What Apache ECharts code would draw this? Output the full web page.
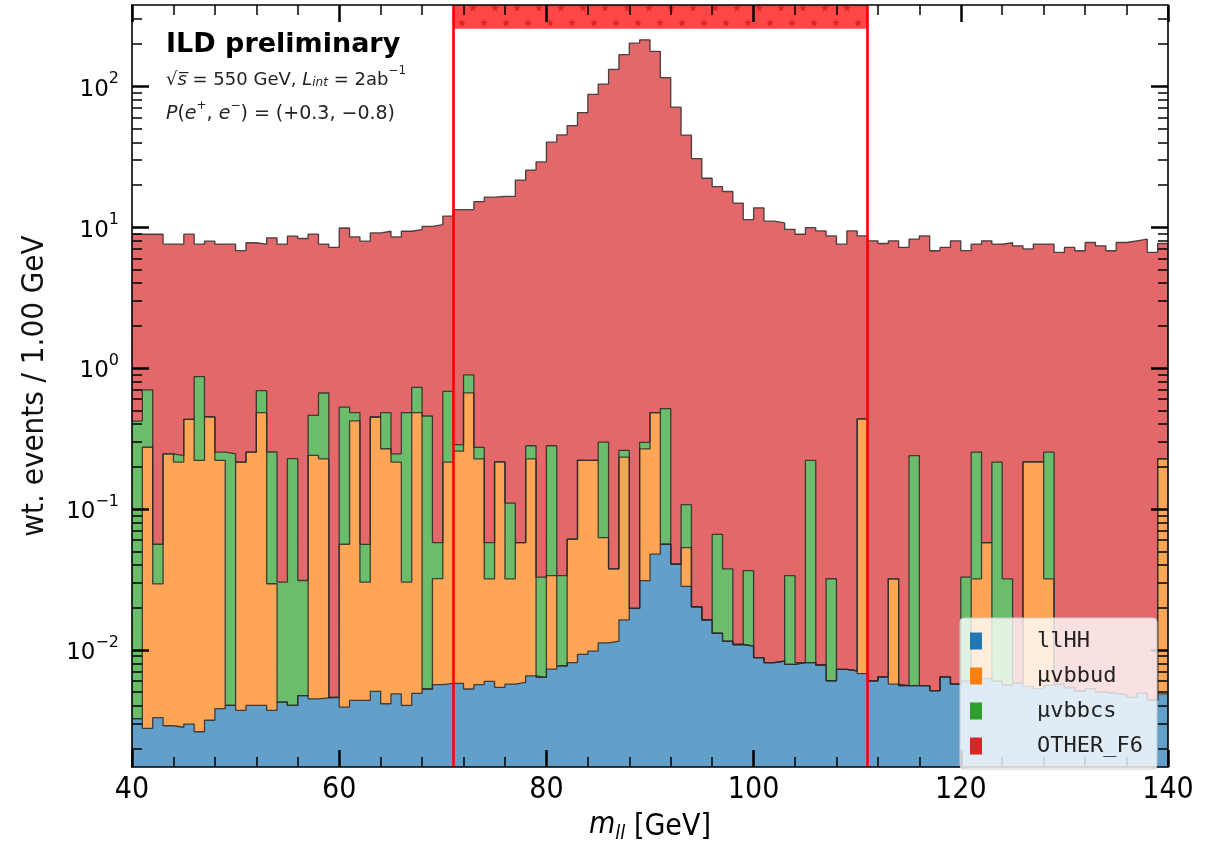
<!DOCTYPE html>
<html>
<head>
<meta charset="utf-8">
<script src="https://cdn.jsdelivr.net/npm/echarts@6/dist/echarts.min.js"></script>
<style>html,body{margin:0;padding:0;background:#fff;}#chart{width:1219px;height:849px;}</style>
</head>
<body>
<div id="chart"></div>
<script>
// ---------- data ----------
const binLow = 40, binHigh = 140, nBins = 100;
const binEdges = [];
for (let i = 0; i <= nBins; i++) binEdges.push(binLow + i * (binHigh - binLow) / nBins);

const seriesNames = ['llHH', 'μvbbud', 'μvbbcs', 'OTHER_F6'];

const llHH = [
0.00325,0.00277,0.0033,0.00289,0.00282,0.00297,0.00262,0.00316,0.00382,0.00403,
0.00372,0.00403,0.00403,0.00372,0.00425,0.00403,0.00473,0.00449,0.00455,0.0046,
0.00392,0.00437,0.00437,0.00507,0.00414,0.00486,0.00403,0.00491,0.00527,0.00565,
0.00577,0.00577,0.00527,0.00565,0.00596,0.00541,0.00571,0.00586,0.00653,0.00636,
0.00728,0.00768,0.00811,0.00927,0.00978,0.0112,0.0115,0.0163,0.0197,0.031,
0.0477,0.0561,0.0406,0.0282,0.0202,0.0163,0.0131,0.0115,0.0109,0.0106,
0.00879,0.00811,0.0083,0.00789,0.00811,0.00811,0.0078,0.00603,0.00727,0.00708,
0.00678,0.00602,0.00643,0.0057,0.00556,0.00556,0.00556,0.00513,0.00643,0.0057,
0.0060,0.0062,0.0063,0.0060,0.0056,0.0058,0.0055,0.0053,0.0056,0.0057,
0.0054,0.0051,0.0053,0.0050,0.0049,0.0048,0.0046,0.0049,0.0044,0.00486];

const vbbud = [
0,0.271,0.0261,0.243,0.212,0.429,0.218,0.446,0.217,0,
0.211,0.249,0.478,0.0257,0,0,0,0.235,0.222,0,
0.0522,0.417,0.0258,0.444,0.263,0.21,0.0262,0.477,0,0.0263,
0.209,0.251,0.66,0.221,0.0259,0.21,0.0262,0.0517,0.22,0,
0.0263,0,0.0528,0.212,0.211,0.0513,0.026,0.217,0,0.236,
0.434,0,0,0.0249,0,0,0,0,0,0,
0,0,0,0,0,0,0,0,0,0,
0.429,0,0,0.0262,0,0,0,0,0,0,
0,0.0257,0.0513,0,0,0,0.21,0.21,0.0263,0,
0,0,0,0,0,0,0,0,0,0.222];

const vbbcs = [
0.417,0.426,0.0267,0,0.024,0,0.649,0,0.032,0.242,
0,0,0.208,0.224,0.026,0.223,0.0263,0.222,0.438,0,
0.471,0.061,0.0259,0,0.215,0.031,0.452,0.246,0.451,0.0257,
0.468,0.029,0.228,0.047,0.0257,0,0.078,0,0.054,0.0264,
0.247,0.0259,0,0,0,0.235,0,0.027,0,0.03,
0,0.458,0,0.054,0,0,0.0528,0.026,0,0.0259,
0,0,0,0.0257,0,0.213,0,0.0259,0,0,
0,0,0,0,0,0.233,0,0,0,0,
0.0268,0.221,0,0.209,0.0263,0,0,0,0.221,0,
0,0,0,0,0,0,0,0,0,0];

const otherF6 = [
8.48,8.20,8.84,7.32,7.33,8.47,6.70,7.50,7.32,7.32,
6.59,7.49,6.88,8.14,7.54,8.39,8.27,8.44,6.91,7.18,
9.33,8.04,7.89,8.64,8.86,8.27,8.86,8.86,9.66,10.34,
11.28,13.0,12.4,14.9,16.24,16.3,16.4,21.5,25.1,29.0,
39.8,45.1,52.4,64.8,87.2,103.0,131.5,167.2,202.1,213.0,
176.2,114.5,70.9,44.8,30.6,22.2,19.33,17.86,14.8,11.26,
13.7,11.0,10.7,9.61,8.89,9.69,9.38,8.63,7.56,9.38,
8.22,7.98,7.64,7.96,7.17,7.97,8.65,6.79,7.17,7.98,
6.77,7.32,7.93,7.36,7.71,7.36,6.78,7.36,7.32,6.61,
7.17,6.79,7.77,7.36,6.79,7.77,7.98,8.20,6.61,7.42];

const seriesValues = [llHH, vbbud, vbbcs, otherF6];

const xTickValues = [40, 60, 80, 100, 120, 140];
const yTickValues = [0.01, 0.1, 1, 10, 100];
const yMin = 0.00147, yMax = 377;
const cutWindow = [71, 111];
const bandRange = [256, yMax];

// ---------- styles ----------
const fillColors = ['rgb(98,160,202)', 'rgb(255,165,86)', 'rgb(107,189,107)', 'rgb(226,104,105)'];
const legendColors = ['#1f77b4', '#ff7f0e', '#2ca02c', '#d62728'];
const narrowFont = '"Liberation Sans Narrow", "DejaVu Sans Condensed", sans-serif';

const yMinorTicks = [];
for (let k = -3; k <= 2; k++) {
  for (let m = 2; m <= 9; m++) {
    const v = m * Math.pow(10, k);
    if (v > yMin && v < yMax) yMinorTicks.push(v);
  }
}

function starPattern() {
  const c = document.createElement('canvas');
  c.width = 22; c.height = 30;
  const g = c.getContext('2d');
  g.fillStyle = 'rgba(255,0,0,0.72)';
  g.fillRect(0, 0, c.width, c.height);
  g.fillStyle = 'rgba(195,0,0,0.5)';
  function star(cx, cy, r) {
    g.beginPath();
    for (let i = 0; i < 10; i++) {
      const rr = i % 2 === 0 ? r : r * 0.45;
      const a = -Math.PI / 2 + i * Math.PI / 5;
      const px = cx + rr * Math.cos(a), py = cy + rr * Math.sin(a);
      if (i === 0) g.moveTo(px, py); else g.lineTo(px, py);
    }
    g.closePath(); g.fill();
  }
  star(11, 8, 4.2); star(0, 23, 4.2); star(22, 23, 4.2);
  return c;
}
const bandFill = { image: starPattern(), repeat: 'repeat' };

// stacked tops (cumulative sums of the series, bottom to top)
const stackedTops = [];
let running = new Array(nBins).fill(0);
seriesValues.forEach(vals => {
  running = running.map((r, i) => r + vals[i]);
  stackedTops.push(running.slice());
});

function stepData(vals) {
  const d = vals.map((v, i) => [binEdges[i], v]);
  d.push([binEdges[nBins], vals[vals.length - 1]]);
  return d;
}

// draw from the top layer down so each lower layer paints over the one above it
const histSeries = [3, 2, 1, 0].map(k => ({
  type: 'line',
  name: seriesNames[k],
  data: stepData(stackedTops[k]),
  step: 'end',
  symbol: 'none',
  silent: true,
  xAxisIndex: 0,
  yAxisIndex: 0,
  itemStyle: { color: legendColors[k] },
  lineStyle: { color: '#2a2a2a', width: 1.3, opacity: 0.85 },
  areaStyle: { color: fillColors[k], opacity: 1 },
  z: 2
}));

const chart = echarts.init(document.getElementById('chart'), null, { renderer: 'canvas' });

const tickColor = '#000';
function baseX(pos, showLabel) {
  return {
    type: 'value', min: binLow, max: binHigh, interval: 20, position: pos, z: 10,
    axisLine: { show: true, onZero: false, lineStyle: { color: tickColor, width: 1.6 } },
    axisTick: { show: true, inside: true, length: 17, lineStyle: { color: tickColor, width: 2.5 } },
    minorTick: { show: true, splitNumber: 5, length: 10, lineStyle: { color: tickColor, width: 1.5 } },
    splitLine: { show: false },
    axisLabel: {
      show: showLabel, margin: 8, color: '#000',
      fontFamily: narrowFont, fontSize: 30,
      customValues: xTickValues
    }
  };
}
function logY(pos, ticks, len, width, showLine, showLabel) {
  return {
    type: 'log', logBase: 10, min: yMin, max: yMax, position: pos, z: 10,
    axisLine: { show: showLine, onZero: false, lineStyle: { color: tickColor, width: 1.6 } },
    axisTick: { show: true, inside: true, length: len, lineStyle: { color: tickColor, width: width }, customValues: ticks },
    minorTick: { show: false },
    splitLine: { show: false },
    axisLabel: {
      show: showLabel, margin: 13, customValues: ticks,
      formatter: function (v) {
        const e = Math.round(Math.log10(v));
        return '{b|10}{s|' + (e < 0 ? '\u2212' + (-e) : String(e)) + '}';
      },
      rich: {
        b: { fontFamily: 'DejaVu Sans', fontSize: 23, color: '#000', lineHeight: 30, verticalAlign: 'bottom' },
        s: { fontFamily: 'DejaVu Sans', fontSize: 16, color: '#000', lineHeight: 18, verticalAlign: 'top' }
      }
    }
  };
}

const yMain = logY('left', yTickValues, 17, 2.5, true, true);
yMain.name = 'wt. events / 1.00 GeV';
yMain.nameLocation = 'middle';
yMain.nameRotate = 90;
yMain.nameGap = 82;
yMain.nameTextStyle = { fontFamily: narrowFont, fontSize: 31, color: '#111' };

const xMain = baseX('bottom', true);
xMain.name = '{i|m}{sub|ll} [GeV]';
xMain.nameLocation = 'middle';
xMain.nameGap = 38;
xMain.nameTextStyle = {
  fontFamily: narrowFont, fontSize: 30, color: '#000',
  rich: {
    i: { fontFamily: narrowFont, fontStyle: 'italic', fontSize: 30, lineHeight: 34, verticalAlign: 'top' },
    sub: { fontFamily: narrowFont, fontStyle: 'italic', fontSize: 20, lineHeight: 22, verticalAlign: 'bottom' }
  }
};

const option = {
  animation: false,
  backgroundColor: '#ffffff',
  grid: { left: 132, top: 5, width: 1036, height: 772, containLabel: false, show: false },
  xAxis: [xMain, baseX('top', false)],
  yAxis: [
    yMain,
    logY('right', yTickValues, 17, 2.5, true, false),
    logY('left', yMinorTicks, 10, 1.5, false, false),
    logY('right', yMinorTicks, 10, 1.5, false, false)
  ],
  legend: {
    orient: 'vertical', left: 960, top: 618, icon: 'rect',
    itemWidth: 12, itemHeight: 17, itemGap: 13,
    padding: [12, 14, 12, 10],
    backgroundColor: 'rgba(255,255,255,0.8)', borderColor: '#cccccc', borderWidth: 1, borderRadius: 4,
    textStyle: { fontFamily: '"DejaVu Sans Mono", monospace', fontSize: 22, lineHeight: 22, color: '#222', padding: [0, 0, 0, 50] },
    itemStyle: { borderWidth: 0 },
    lineStyle: { width: 0 },
    selectedMode: false,
    data: seriesNames.map((n, i) => ({ name: n, itemStyle: { color: legendColors[i], borderWidth: 0 } })),
    z: 20
  },
  graphic: [
    { type: 'text', left: 166, top: 31, z: 30,
      style: { text: 'ILD preliminary', font: 'bold 27px "DejaVu Sans"', fill: '#000' } },
    { type: 'text', left: 166, top: 65, z: 30,
      style: {
        text: '{n|\u221a}{i|s\u0305}{n| = 550 GeV, }{i|L}{sb|int}{n| = 2ab}{sp|\u22121}',
        rich: {
          n: { fontFamily: 'DejaVu Sans', fontSize: 18, fill: '#222', lineHeight: 24, verticalAlign: 'bottom' },
          i: { fontFamily: 'DejaVu Sans', fontStyle: 'italic', fontSize: 18, fill: '#222', lineHeight: 24, verticalAlign: 'bottom' },
          sb: { fontFamily: 'DejaVu Sans', fontStyle: 'italic', fontSize: 12, fill: '#222', lineHeight: 13, verticalAlign: 'bottom' },
          sp: { fontFamily: 'DejaVu Sans', fontSize: 12, fill: '#222', lineHeight: 13, verticalAlign: 'top' }
        }
      } },
    { type: 'text', left: 166, top: 100, z: 30,
      style: {
        text: '{i|P}{n|(}{i|e}{sp|+}{n|, }{i|e}{sp|\u2212}{n|) = (+0.3, \u22120.8)}',
        rich: {
          n: { fontFamily: 'DejaVu Sans', fontSize: 19, fill: '#222', lineHeight: 24, verticalAlign: 'bottom' },
          i: { fontFamily: 'DejaVu Sans', fontStyle: 'italic', fontSize: 19, fill: '#222', lineHeight: 24, verticalAlign: 'bottom' },
          sp: { fontFamily: 'DejaVu Sans', fontSize: 12, fill: '#222', lineHeight: 13, verticalAlign: 'top' }
        }
      } }
  ],
  series: histSeries.concat([
    {
      type: 'custom',
      name: 'signal window',
      silent: true,
      xAxisIndex: 0, yAxisIndex: 0,
      z: 5,
      data: [[cutWindow[0], cutWindow[1], bandRange[0], bandRange[1]]],
      encode: { x: [0, 1], y: [2, 3] },
      renderItem: function (params, api) {
        const p0 = api.coord([api.value(0), api.value(3)]);
        const p1 = api.coord([api.value(1), api.value(2)]);
        return { type: 'rect', shape: { x: p0[0], y: p0[1], width: p1[0] - p0[0], height: p1[1] - p0[1] }, style: { fill: bandFill } };
      },
      markLine: {
        silent: true, symbol: 'none', animation: false,
        label: { show: false },
        lineStyle: { color: '#ff0000', width: 2.6, type: 'solid', opacity: 1 },
        data: cutWindow.map(c => ({ xAxis: c }))
      }
    }
  ])
};
chart.setOption(option);
</script>
</body>
</html>
